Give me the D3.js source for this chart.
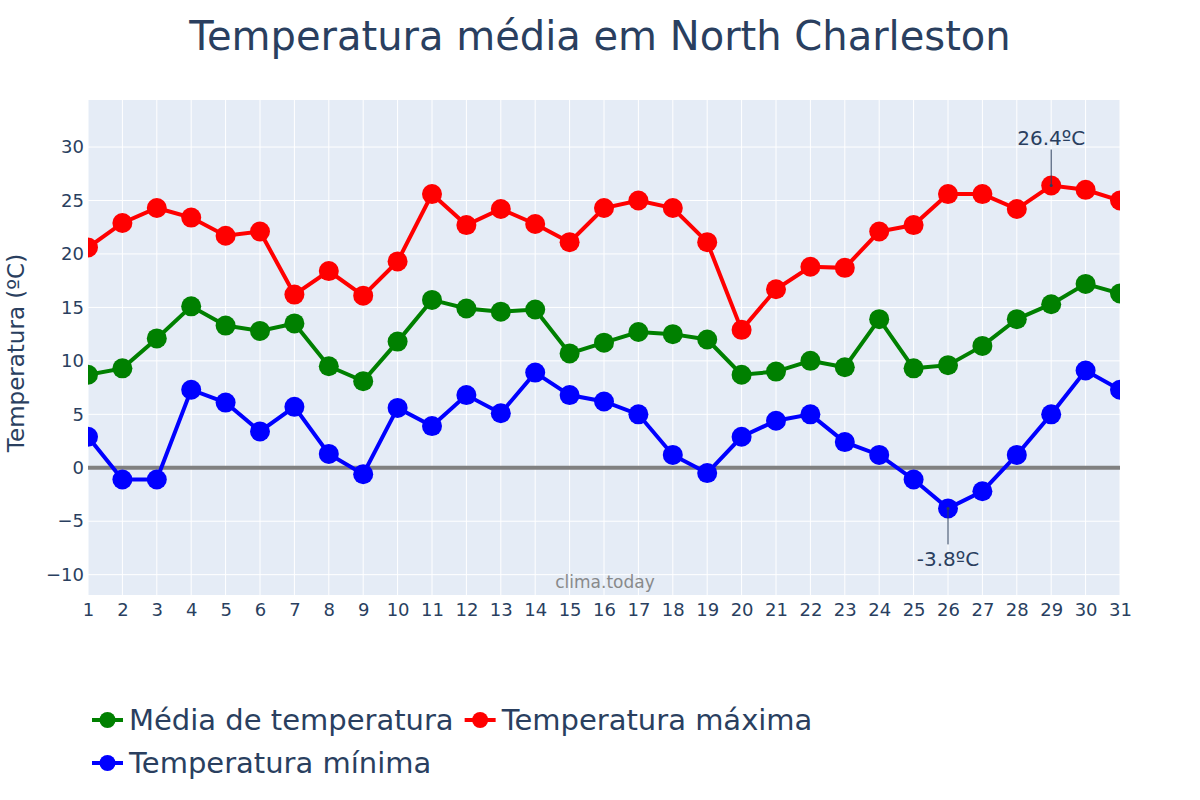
<!DOCTYPE html>
<html><head><meta charset="utf-8">
<script src="https://cdn.jsdelivr.net/npm/d3@7"></script>
<style>body{margin:0;background:#fff}svg{display:block}</style>
</head><body><svg id="c" width="1200" height="800"></svg>
<script>
const days = d3.range(1, 32);
const tempMax = [20.6,22.9,24.3,23.4,21.7,22.1,16.2,18.4,16.1,19.3,25.6,22.7,24.2,22.8,21.1,24.3,25.0,24.3,21.1,12.9,16.7,18.8,18.7,22.1,22.7,25.6,25.6,24.2,26.4,26.0,25.0];
const tempMean = [8.7,9.3,12.1,15.1,13.3,12.8,13.5,9.5,8.1,11.8,15.7,14.9,14.6,14.8,10.7,11.7,12.7,12.5,12.0,8.7,9.0,10.0,9.4,13.9,9.3,9.6,11.4,13.9,15.3,17.2,16.3];
const tempMin = [2.9,-1.1,-1.1,7.3,6.1,3.4,5.7,1.3,-0.6,5.6,3.9,6.8,5.1,8.9,6.8,6.2,5.0,1.2,-0.5,2.9,4.4,5.0,2.4,1.2,-1.1,-3.8,-2.2,1.2,5.0,9.1,7.3];
const yTicks = [-10,-5,0,5,10,15,20,25,30];
const seriesNames = ["Média de temperatura","Temperatura máxima","Temperatura mínima"];
const seriesColors = ["green","red","blue"];
const seriesData = [tempMean, tempMax, tempMin];

const svg = d3.select("#c");
const L = 88, R = 1120, T = 100, B = 595;
const x = d3.scaleLinear().domain([1,31]).range([L,R]);
const y = d3.scaleLinear().domain([-11.9,34.4]).range([B,T]);
const textCol = "#2a3f5f";
const font = "'DejaVu Sans', Verdana, sans-serif";

svg.append("rect").attr("x",L).attr("y",T).attr("width",R-L).attr("height",B-T).attr("fill","#e5ecf6");

// grid
svg.append("g").selectAll("line").data(days).join("line")
  .attr("x1",d=>x(d)).attr("x2",d=>x(d)).attr("y1",T).attr("y2",B)
  .attr("stroke","#fff").attr("stroke-width",1);
svg.append("g").selectAll("line").data(yTicks).join("line")
  .attr("x1",L).attr("x2",R).attr("y1",d=>y(d)).attr("y2",d=>y(d))
  .attr("stroke","#fff").attr("stroke-width",1);

// axes
const yAxis = d3.axisLeft(y).tickValues(yTicks).tickSize(0).tickPadding(4)
  .tickFormat(d=> d<0 ? "\u2212"+Math.abs(d) : d);
const gy = svg.append("g").attr("transform",`translate(${L},0)`).call(yAxis);
gy.select(".domain").remove();
gy.selectAll("text").attr("font-size",18).attr("fill",textCol).attr("font-family",font);

const xAxis = d3.axisBottom(x).tickValues(days).tickSize(0).tickPadding(8).tickFormat(d3.format("d"));
const gx = svg.append("g").attr("transform",`translate(0,${B})`).call(xAxis);
gx.select(".domain").remove();
gx.selectAll("text").attr("font-size",18).attr("fill",textCol).attr("font-family",font);

// zero line
svg.append("line").attr("x1",L).attr("x2",R).attr("y1",y(0)).attr("y2",y(0))
  .attr("stroke","#808080").attr("stroke-width",4);

// watermark
svg.append("text").attr("x",605).attr("y",588).attr("text-anchor","middle")
  .attr("font-size",17).attr("fill","#7f7f7f").attr("font-family",font).attr("opacity",0.9).text("clima.today");

// series
svg.append("clipPath").attr("id","clp").append("rect")
  .attr("x",L).attr("y",T).attr("width",R-L).attr("height",B-T);
const plot = svg.append("g").attr("clip-path","url(#clp)");
const line = d3.line().x((d,i)=>x(days[i])).y(d=>y(d));
seriesData.forEach((s,k)=>{
  plot.append("path").datum(s).attr("d",line).attr("fill","none")
    .attr("stroke",seriesColors[k]).attr("stroke-width",4);
  plot.append("g").selectAll("circle").data(s).join("circle")
    .attr("cx",(d,i)=>x(days[i])).attr("cy",d=>y(d)).attr("r",10).attr("fill",seriesColors[k]);
});

// annotations
function annot(day, val, label, above){
  const px = x(day), py = y(val);
  const ly = above ? py - 36 : py + 36;
  svg.append("line").attr("x1",px).attr("x2",px).attr("y1",py).attr("y2",ly)
    .attr("stroke",textCol).attr("stroke-width",1);
  svg.append("circle").attr("cx",px).attr("cy",py).attr("r",1.5).attr("fill",textCol);
  svg.append("text").attr("x",px).attr("y",above? ly-5 : ly+22).attr("text-anchor","middle")
    .attr("font-size",20).attr("fill",textCol).attr("font-family",font).text(label);
}
const iMax = tempMax.indexOf(d3.max(tempMax));
const iMin = tempMin.indexOf(d3.min(tempMin));
annot(days[iMax], tempMax[iMax], tempMax[iMax].toFixed(1)+"ºC", true);
annot(days[iMin], tempMin[iMin], tempMin[iMin].toFixed(1)+"ºC", false);

// title
svg.append("text").attr("x",600).attr("y",50).attr("text-anchor","middle")
  .attr("font-size",40).attr("fill",textCol).attr("font-family",font)
  .text("Temperatura média em North Charleston");

// y label
svg.append("text").attr("transform","translate(24,353) rotate(-90)").attr("text-anchor","middle")
  .attr("font-size",23).attr("fill",textCol).attr("font-family",font).text("Temperatura (ºC)");

// legend
function legendItem(k, lx, ly){
  const g = svg.append("g").attr("transform",`translate(${lx},${ly})`);
  g.append("line").attr("x1",0).attr("x2",31).attr("y1",0).attr("y2",0).attr("stroke",seriesColors[k]).attr("stroke-width",4);
  g.append("circle").attr("cx",15.5).attr("cy",0).attr("r",8).attr("fill",seriesColors[k]);
  const t = g.append("text").attr("x",37).attr("y",10).attr("font-size",29).attr("fill",textCol).attr("font-family",font).text(seriesNames[k]);
  return lx + 37 + t.node().getComputedTextLength();
}
const end0 = legendItem(0, 92, 720);
legendItem(1, end0 + 11, 720);
legendItem(2, 92, 763);
</script></body></html>
